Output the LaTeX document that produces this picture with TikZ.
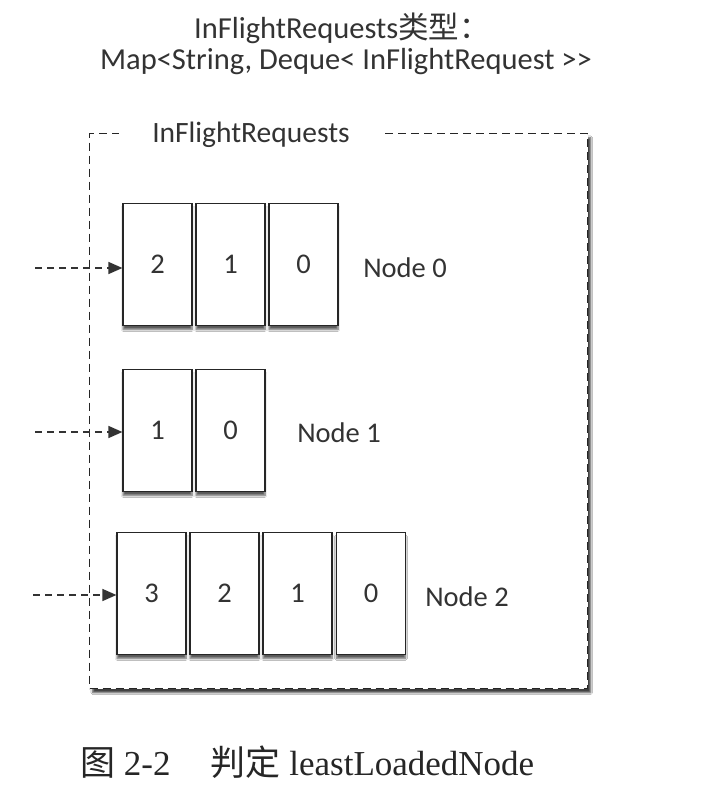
\documentclass[tikz,border=0pt]{standalone}
\usepackage{fontspec}
\setmainfont{Carlito}
\newfontfamily\cjk{Noto Sans CJK SC}
\newfontfamily\capserif{Liberation Serif}
\usetikzlibrary{arrows.meta,shadows.blur}
\begin{document}
\begin{tikzpicture}[x=1pt,y=-1pt,
  txt/.style={text=black!80, inner sep=0pt, font=\fontsize{28.5}{32}\selectfont},
  cell/.style={draw=black!85, line width=1.2pt, fill=white, minimum width=69pt, minimum height=122pt, inner sep=0pt,
    font=\fontsize{28.5}{32}\selectfont, text=black!80,
    blur shadow={shadow xshift=0pt, shadow yshift=-4pt, shadow blur steps=6, shadow opacity=65}},
  feed/.style={draw=black!80, line width=1.4pt, dash pattern=on 7pt off 5pt, -{Triangle[length=14pt,width=12pt]}},
  frame/.style={draw=black!85, line width=1.4pt, dash pattern=on 8pt off 5pt, fill=white,
    blur shadow={shadow xshift=3pt, shadow yshift=-4pt, shadow blur steps=4, shadow opacity=75}}]
\useasboundingbox (0,0) rectangle (714,812);
\fill[white] (0,0) rectangle (714,812);

% titles
\node[txt, font=\fontsize{30.5}{34}\selectfont] (t1) at (342,28) {InFlightRequests{\cjk 类型：}};
\node[txt, font=\fontsize{30.5}{34}\selectfont] (t2) at (346,62) {Map<String, Deque< InFlightRequest >{}>};

% outer frame
\node[frame, minimum width=498pt, minimum height=555pt, anchor=north west, inner sep=0pt] (frame) at (89,133) {};
\node[txt, fill=white, font=\fontsize{29.5}{33}\selectfont, inner xsep=33pt, inner ysep=4pt] (frlabel) at (251,135) {InFlightRequests};

% row 0
\node[cell] (a2) at (157.5,264.5) {2};
\node[cell] (a1) at (230.5,264.5) {1};
\node[cell] (a0) at (303.5,264.5) {0};
\node[txt] (n0) at (405,268) {Node 0};

% row 1
\node[cell] (b1) at (157.5,430.5) {1};
\node[cell] (b0) at (230.5,430.5) {0};
\node[txt] (n1) at (339,433) {Node 1};

% row 2
\node[cell] (c3) at (151.5,593.5) {3};
\node[cell] (c2) at (224.5,593.5) {2};
\node[cell] (c1) at (297.5,593.5) {1};
\node[cell] (c0) at (371,593.5) {0};
\node[txt] (n2) at (467,597) {Node 2};

% incoming arrows
\coordinate (s0) at (35,268);
\coordinate (s1) at (35,432);
\coordinate (s2) at (33,595);
\draw[feed] (s0) -- (s0 -| a2.west);
\draw[feed] (s1) -- (s1 -| b1.west);
\draw[feed] (s2) -- (s2 -| c3.west);

% caption
\node[anchor=west, inner sep=0pt, font=\fontsize{35}{40}\selectfont\capserif, text=black!85] (cap) at (80,762)
  {{\cjk 图}~2-2\hspace{40pt}{\cjk 判定}~leastLoadedNode};
\end{tikzpicture}
\end{document}
